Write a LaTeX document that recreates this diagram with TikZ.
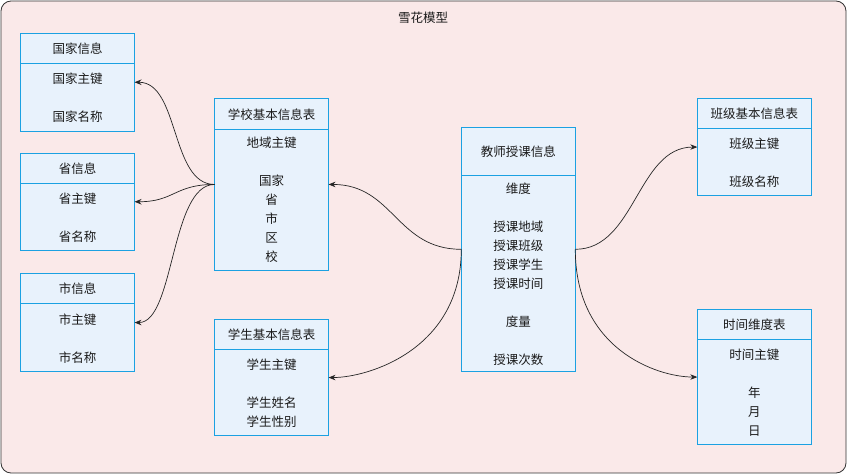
\documentclass[tikz,border=0pt]{standalone}
\usepackage{fontspec}
\setmainfont{Noto Sans CJK SC}
\usepackage{xcolor}
\usetikzlibrary{arrows.meta, positioning, fit}
\definecolor{framefill}{HTML}{FAE9E9}
\definecolor{framedraw}{HTML}{333333}
\definecolor{tablefill}{HTML}{E8F2FC}
\definecolor{tabledraw}{HTML}{1BA1E2}
\definecolor{textcol}{HTML}{1A1A1A}
\newcommand{\tabfont}{\fontsize{12.5pt}{19pt}\selectfont}
\tikzset{
  tablehead/.style={rectangle, draw=tabledraw, fill=tablefill, line width=0.8pt,
    minimum width=114pt, minimum height=30.5pt, inner sep=0pt, outer sep=0pt,
    align=center, font=\tabfont, text=textcol, text depth=-0.5pt},
  tablebody/.style={tablehead, minimum height=#1, text depth=-1.5pt},
  tabframe/.style={inner sep=0pt, outer sep=0pt},
  link/.style={-{Stealth[length=7pt,width=5.5pt]}, draw=black!85, line width=0.7pt}
}

\begin{document}
\begin{tikzpicture}[x=1pt, y=-1pt]
  \useasboundingbox (0,0) rectangle (847,474);
  \draw[framedraw, fill=framefill, line width=0.8pt, rounded corners=10pt] (1,1) rectangle (846,473);
  \node[font=\tabfont, text=textcol] (title) at (423,17.5) {雪花模型};

  % left column
  \node[tablehead, anchor=north west] (countryhead) at (20.5,33) {国家信息};
  \node[tablebody=68pt, below=0pt of countryhead] (country) {国家主键\\[19pt]国家名称};
  \node[tablehead, anchor=north west] (provhead) at (20.5,153) {省信息};
  \node[tablebody=67pt, below=0pt of provhead] (prov) {省主键\\[19pt]省名称};
  \node[tablehead, anchor=north west] (cityhead) at (20.5,273.3) {市信息};
  \node[tablebody=68pt, below=0pt of cityhead] (city) {市主键\\[19pt]市名称};

  % school / student
  \node[tablehead, anchor=north west] (schoolhead) at (214.5,98.7) {学校基本信息表};
  \node[tablebody=141pt, below=0pt of schoolhead] (school) {地域主键\\[19pt]国家\\省\\市\\区\\校};
  \node[tablehead, anchor=north west] (studenthead) at (214.5,319.3) {学生基本信息表};
  \node[tablebody=86pt, below=0pt of studenthead] (student) {学生主键\\[19pt]学生姓名\\学生性别};

  % fact table
  \node[tablehead, minimum height=48pt, anchor=north west] (facthead) at (461.3,127.3) {教师授课信息};
  \node[tablebody=196pt, below=0pt of facthead] (fact) {维度\\[19pt]授课地域\\授课班级\\授课学生\\授课时间\\[19pt]度量\\[19pt]授课次数};

  % right column
  \node[tablehead, anchor=north west] (classhead) at (697.3,98.3) {班级基本信息表};
  \node[tablebody=67pt, below=0pt of classhead] (class) {班级主键\\[19pt]班级名称};
  \node[tablehead, anchor=north west] (timehead) at (697.3,309.3) {时间维度表};
  \node[tablebody=105pt, below=0pt of timehead] (time) {时间主键\\[19pt]年\\月\\日};

  % whole tables
  \node[tabframe, fit=(countryhead)(country)] (countrytab) {};
  \node[tabframe, fit=(provhead)(prov)] (provtab) {};
  \node[tabframe, fit=(cityhead)(city)] (citytab) {};
  \node[tabframe, fit=(schoolhead)(school)] (schooltab) {};
  \node[tabframe, fit=(studenthead)(student)] (studenttab) {};
  \node[tabframe, fit=(facthead)(fact)] (facttab) {};
  \node[tabframe, fit=(classhead)(class)] (classtab) {};
  \node[tabframe, fit=(timehead)(time)] (timetab) {};

  \draw[link] (schooltab.west) .. controls +(-44,0) and +(45,0) .. (countrytab.east);
  \draw[link] (schooltab.west) .. controls +(-40,0) and +(40,0) .. (provtab.east);
  \draw[link] (schooltab.west) .. controls +(-44,0) and +(40,0) .. (citytab.east);
  \draw[link] (facttab.west) .. controls +(-65,0) and +(65,0) .. (schooltab.east);
  \draw[link] (facttab.west) .. controls +(0,100) and +(40,0) .. (studenttab.east);
  \draw[link] (facttab.east) .. controls +(60,0) and +(-60,0) .. (classtab.west);
  \draw[link] (facttab.east) .. controls +(0,100) and +(-40,0) .. (timetab.west);
\end{tikzpicture}
\end{document}
